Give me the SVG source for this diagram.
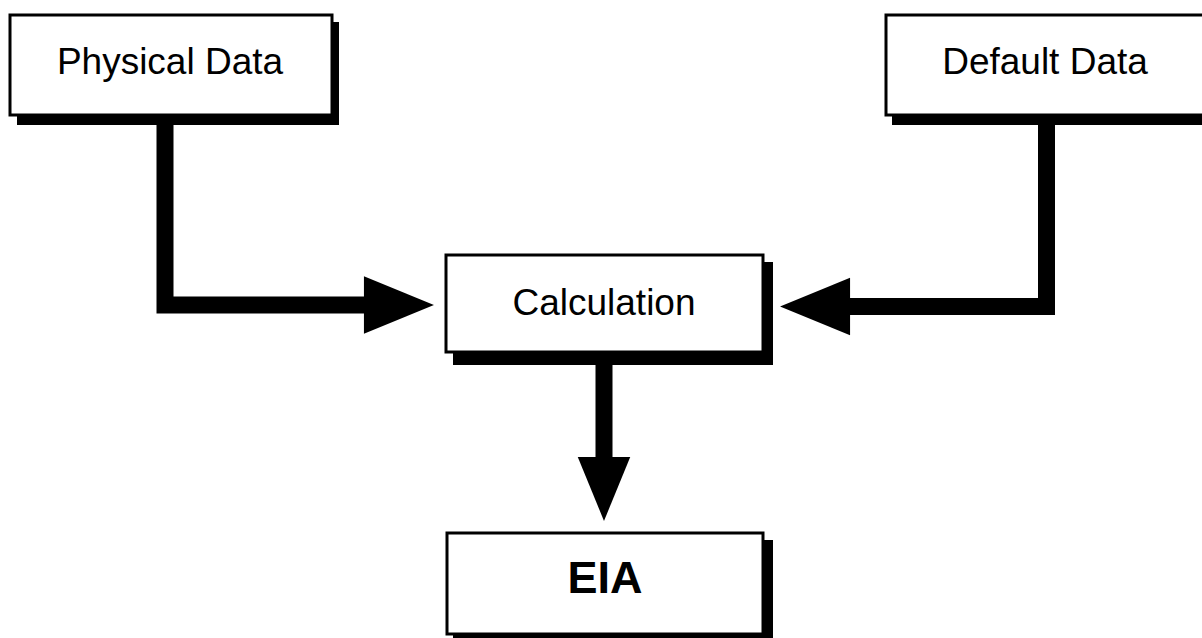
<svg xmlns="http://www.w3.org/2000/svg" width="1202" height="638" viewBox="0 0 1202 638">
<defs>
<style>
.shadow{fill:#000}
.box{fill:#fff;stroke:#000;stroke-width:3}
.lbl{font-family:"Liberation Sans",Arial,Helvetica,sans-serif;font-size:37px;fill:#000;text-anchor:middle}
.big{font-size:45px;font-weight:bold}
.conn{fill:none;stroke:#000;stroke-width:17;stroke-linejoin:miter;stroke-linecap:butt}
</style>
<marker id="ah" markerUnits="userSpaceOnUse" markerWidth="70" markerHeight="60" viewBox="0 -28 66 56" refX="1" refY="0" orient="auto" overflow="visible">
<polygon points="0,-27 66,0 0,27" fill="#000"/>
</marker>
<marker id="ahd" markerUnits="userSpaceOnUse" markerWidth="64" markerHeight="56" viewBox="0 -26 61 52" refX="1" refY="0" orient="auto" overflow="visible">
<polygon points="0,-25 61,0 0,25" fill="#000"/>
</marker>
</defs>
<rect width="1202" height="638" fill="#fff"/>
<g id="connectors">
<path class="conn" d="M165 124 L165 305 L365 305" marker-end="url(#ah)"/>
<path class="conn" d="M1046.5 124 L1046.5 306.5 L849 306.5" marker-end="url(#ah)"/>
<path class="conn" d="M604 364 L604 458" marker-end="url(#ahd)"/>
</g>
<g id="physical">
<rect class="shadow" x="17" y="22" width="322" height="103"/>
<rect class="box" x="10" y="15" width="322" height="100"/>
<text class="lbl" x="170" y="74">Physical Data</text>
</g>
<g id="default">
<rect class="shadow" x="892" y="22" width="330" height="103"/>
<rect class="box" x="886" y="15" width="320" height="100"/>
<text class="lbl" x="1045" y="74">Default Data</text>
</g>
<g id="calculation">
<rect class="shadow" x="453" y="262" width="320" height="103"/>
<rect class="box" x="446" y="255" width="317" height="97"/>
<text class="lbl" x="604" y="315">Calculation</text>
</g>
<g id="eia">
<rect class="shadow" x="453" y="540" width="320" height="100"/>
<rect class="box" x="447" y="533" width="316" height="101"/>
<text class="lbl big" x="605" y="593">EIA</text>
</g>
</svg>
